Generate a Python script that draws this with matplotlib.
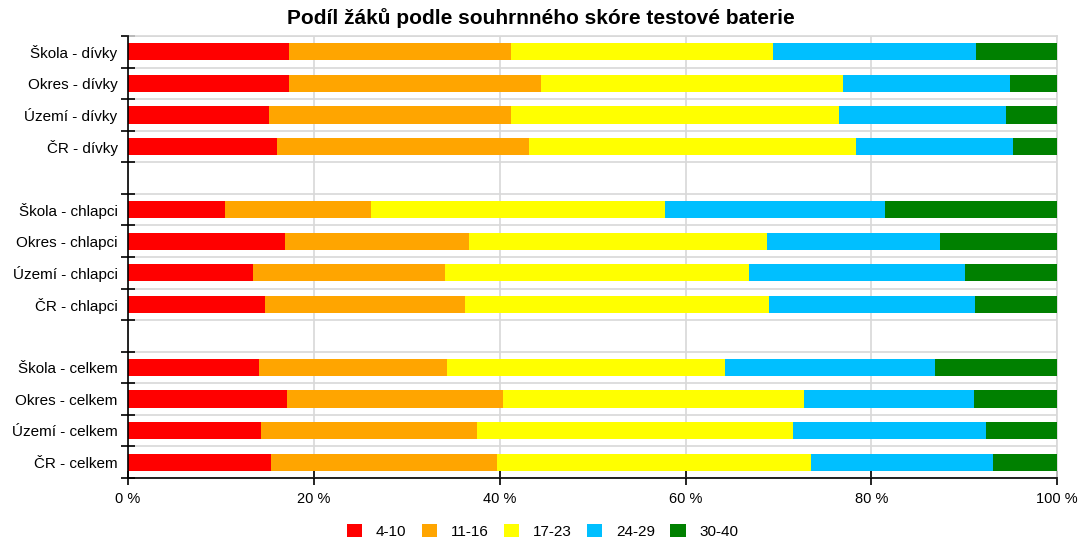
import numpy as np
import matplotlib.pyplot as plt
from matplotlib.patches import Patch
from matplotlib.ticker import FixedLocator

plt.rcParams['font.family'] = ['Liberation Sans', 'DejaVu Sans']

# categories, top to bottom (three groups of four)
categories = [
    "Škola - dívky", "Okres - dívky", "Území - dívky", "ČR - dívky",
    "Škola - chlapci", "Okres - chlapci", "Území - chlapci", "ČR - chlapci",
    "Škola - celkem", "Okres - celkem", "Území - celkem", "ČR - celkem",
]
series = ["4-10", "11-16", "17-23", "24-29", "30-40"]
colors = ["#ff0000", "#ffa500", "#ffff00", "#00bfff", "#008000"]

# share of pupils in % for each score band
v_4_10 = [17.3, 17.3, 15.2, 16.0, 10.4, 16.9, 13.5, 14.7, 14.1, 17.1, 14.3, 15.4]
v_11_16 = [23.9, 27.2, 26.0, 27.2, 15.8, 19.8, 20.6, 21.6, 20.2, 23.3, 23.3, 24.3]
v_17_23 = [28.2, 32.5, 35.3, 35.1, 31.6, 32.1, 32.7, 32.7, 30.0, 32.3, 34.0, 33.8]
v_24_29 = [21.9, 17.9, 18.0, 16.9, 23.7, 18.6, 23.3, 22.2, 22.6, 18.3, 20.7, 19.6]
v_30_40 = [8.7, 5.1, 5.5, 4.8, 18.5, 12.6, 9.9, 8.8, 13.1, 9.0, 7.7, 6.9]
values = [v_4_10, v_11_16, v_17_23, v_24_29, v_30_40]

# positions: leave an empty slot between groups
pos = np.array([i + i // 4 for i in range(len(categories))])
n_slots = pos.max() + 1

fig = plt.figure(figsize=(10.81, 5.42), dpi=100)
ax = fig.add_axes([0.1184, 0.118, 0.8596, 0.8156])

left = np.zeros(len(categories))
for vals, col, name in zip(values, colors, series):
    ax.barh(pos, vals, left=left, height=0.55, color=col, label=name, zorder=3)
    left += np.array(vals)

ax.set_xlim(0, 100)
ax.set_ylim(n_slots - 0.5, -0.5)

ax.set_xticks(np.arange(0, 101, 20))
ax.set_xticklabels([f"{v} %" for v in range(0, 101, 20)], fontsize=10.5)
ax.set_yticks(pos)
ax.set_yticklabels(categories, fontsize=11)
ax.yaxis.set_minor_locator(FixedLocator(np.arange(-0.5, n_slots, 1.0)))

ax.tick_params(axis='y', which='major', length=0, pad=7.5)
ax.tick_params(axis='y', which='minor', length=9.5, width=1.2, direction='inout', color='black')
ax.tick_params(axis='x', which='major', length=9.5, width=1.2, direction='inout', color='black', pad=5)

ax.grid(axis='x', which='major', color='#d8d8d8', linewidth=1.2, zorder=0)
ax.grid(axis='y', which='minor', color='#d8d8d8', linewidth=1.2, zorder=0)

for s in ['top', 'right']:
    ax.spines[s].set_color('#d8d8d8')
    ax.spines[s].set_linewidth(1.2)
for s in ['left', 'bottom']:
    ax.spines[s].set_color('black')
    ax.spines[s].set_linewidth(1.2)
    ax.spines[s].set_zorder(4)

fig.text(0.5, 0.967, "Podíl žáků podle souhrnného skóre testové baterie", fontsize=15,
         fontweight='bold', ha='center', va='center')

handles = [Patch(facecolor=c, edgecolor='none') for c in colors]
fig.legend(handles, series, loc='center', ncol=5, frameon=False, fontsize=11,
           bbox_to_anchor=(0.502, 0.02), handlelength=1.0, handleheight=1.0,
           columnspacing=1.0, handletextpad=0.9)

fig.savefig("out.png", dpi=100)
